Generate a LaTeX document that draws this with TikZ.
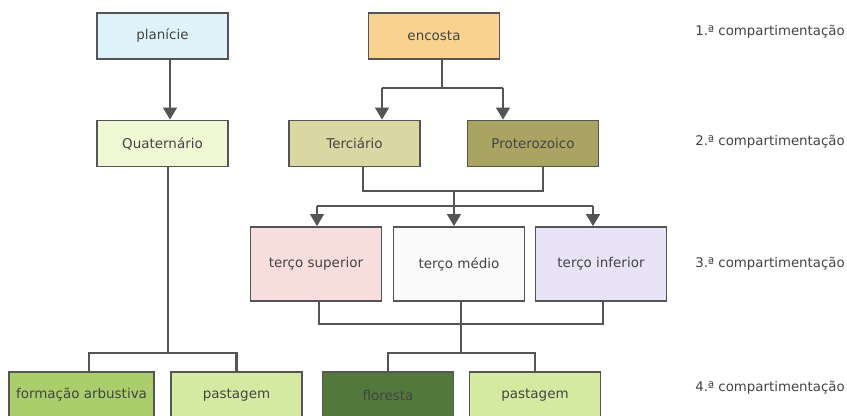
\documentclass[tikz,border=0pt]{standalone}
\usepackage{fontspec}
\setmainfont{DejaVu Sans}
\usetikzlibrary{arrows.meta}
\definecolor{linegray}{HTML}{555555}
\definecolor{txtgray}{HTML}{444444}
\definecolor{cplan}{HTML}{DDF3F9}
\definecolor{cenc}{HTML}{F8D28E}
\definecolor{cquat}{HTML}{F0F7D3}
\definecolor{cterc}{HTML}{D9D7A2}
\definecolor{cprot}{HTML}{A9A462}
\definecolor{csup}{HTML}{F7DEDC}
\definecolor{cmed}{HTML}{FAFAFA}
\definecolor{cinf}{HTML}{E8E3F6}
\definecolor{carb}{HTML}{A9CE6B}
\definecolor{cpast}{HTML}{D4EAA0}
\definecolor{cflor}{HTML}{53783B}
\begin{document}
\begin{tikzpicture}[x=0.75pt,y=-0.75pt,
	box/.style={draw=linegray,line width=1.2pt,text=txtgray,font=\fontsize{10.1}{12}\selectfont,minimum width=98pt,minimum height=34.5pt,inner sep=0pt},
	tallbox/.style={box,minimum height=55.5pt},
	link/.style={draw=linegray,line width=2.2pt},
	arr/.style={link,-{Triangle[width=10pt,length=9pt]}},
	level/.style={anchor=west,text=txtgray,font=\fontsize{10}{12}\selectfont,inner sep=0pt}]
	\useasboundingbox (0,0) rectangle (847,415);
	\node[box,fill=cplan] (plan) at (162.5,36) {planície};
	\node[box,fill=cenc] (enc) at (434,36) {encosta};
	\node[box,fill=cquat] (quat) at (162.5,143.5) {Quaternário};
	\node[box,fill=cterc] (terc) at (354.5,143.5) {Terciário};
	\node[box,fill=cprot] (prot) at (533,143.5) {Proterozoico};
	\node[tallbox,fill=csup] (tsup) at (316,264) {terço superior};
	\node[tallbox,fill=cmed] (tmed) at (459,264) {terço médio};
	\node[tallbox,fill=cinf] (tinf) at (601,264) {terço inferior};
	\node[box,fill=carb,minimum width=108.75pt] (farb) at (81.5,395) {formação arbustiva};
	\node[box,fill=cpast] (past1) at (236.5,395) {pastagem};
	\node[box,fill=cflor] (flor) at (388,395) {floresta};
	\node[box,fill=cpast] (past2) at (535,395) {pastagem};
	
	\node[level] (n1) at (695,32) {1.ª compartimentação};
	\node[level] (n2) at (695,142) {2.ª compartimentação};
	\node[level] (n3) at (695,264) {3.ª compartimentação};
	\node[level] (n4) at (695,388) {4.ª compartimentação};
	
	\coordinate (p) at (170,0);
	\draw[arr] (plan.south -| p) -- (quat.north -| p);
	
	\coordinate (e) at (442,88);
	\coordinate (el) at (382,88);
	\coordinate (er) at (503,88);
	\draw[link] (enc.south -| e) -- (e);
	\draw[link] (el) -- (er);
	\draw[arr] (el) -- (el |- terc.north);
	\draw[arr] (er) -- (er |- prot.north);
	
	\coordinate (gl) at (363,191);
	\coordinate (gr) at (543,191);
	\coordinate (g) at (454,191);
	\coordinate (hl) at (317,206);
	\coordinate (hm) at (454,206);
	\coordinate (hr) at (593,206);
	\draw[link] (terc.south -| gl) -- (gl) -- (gr) -- (prot.south -| gr);
	\draw[link] (g) -- (hm);
	\draw[link] (hl) -- (hr);
	\draw[arr] (hl) -- (hl |- tsup.north);
	\draw[arr] (hm) -- (hm |- tmed.north);
	\draw[arr] (hr) -- (hr |- tinf.north);
	
	\coordinate (tl) at (319,324);
	\coordinate (tm) at (461,324);
	\coordinate (tr) at (603,324);
	\draw[link] (tsup.south -| tl) -- (tl) -- (tr) -- (tinf.south -| tr);
	\draw[link] (tmed.south -| tm) -- (tm);
	
	\coordinate (q) at (168,353);
	\coordinate (ql) at (89,353);
	\draw[link] (quat.south -| q) -- (q);
	\draw[link] (farb.north -| ql) -- (ql) -| (past1.north);
	
	\coordinate (f) at (461,353);
	\draw[link] (tm) -- (f);
	\draw[link] (flor.north) |- (f) -| (past2.north);
\end{tikzpicture}
\end{document}
